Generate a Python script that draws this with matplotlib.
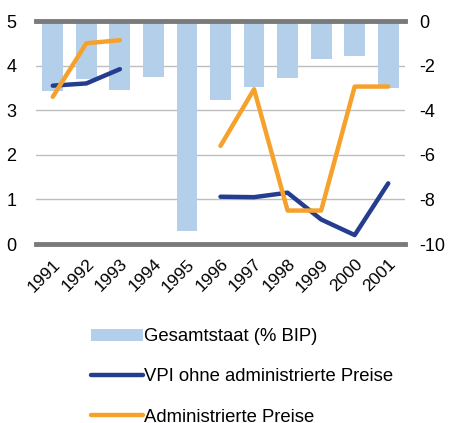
import numpy as np
import matplotlib
matplotlib.use("Agg")
import matplotlib.pyplot as plt
from matplotlib.patches import Patch
from matplotlib.lines import Line2D

plt.rcParams['font.family'] = ['Liberation Sans', 'DejaVu Sans']

years = ["1991", "1992", "1993", "1994", "1995", "1996", "1997", "1998", "1999", "2000", "2001"]
gesamtstaat = [-3.15, -2.6, -3.1, -2.5, -9.4, -3.55, -2.95, -2.55, -1.7, -1.55, -3.0]
vpi = [3.55, 3.6, 3.92, np.nan, np.nan, 1.06, 1.05, 1.15, 0.55, 0.2, 1.36]
admin = [3.3, 4.5, 4.57, np.nan, np.nan, 2.2, 3.47, 0.75, 0.75, 3.53, 3.53]

bar_color = "#b4cfea"
navy = "#253d8f"
orange = "#f7a12d"
axis_grey = "#7a7a7a"

fig = plt.figure(figsize=(4.49, 4.23), dpi=100)
ax = fig.add_axes([36 / 449, 1 - 244 / 423, 369 / 449, 223 / 423])
ax2 = ax.twinx()
x = np.arange(len(years))

# bars against the right-hand scale
ax.bar(x, gesamtstaat, width=0.62, color=bar_color, zorder=2)
ax.set_ylim(-10, 0)
ax.set_xlim(-0.5, len(years) - 0.5)
ax.yaxis.tick_right()
ax.yaxis.set_label_position("right")
ax.set_yticks([0, -2, -4, -6, -8, -10])
ax.set_yticklabels(["0", "-2", "-4", "-6", "-8", "-10"])
ax.grid(True, axis="y", color="#bdbdbd", linewidth=1.0, zorder=0)
ax.set_axisbelow(True)
for side in ["left", "right"]:
    ax.spines[side].set_visible(False)
for side in ["top", "bottom"]:
    ax.spines[side].set_color(axis_grey)
    ax.spines[side].set_linewidth(3.5)
ax.tick_params(axis="y", length=0, labelsize=13, pad=10)
ax.set_xticks(x)
ax.set_xticklabels(years, rotation=45, ha="right", rotation_mode="anchor", fontsize=12.5)
ax.tick_params(axis="x", length=0, pad=9)

# lines against the left-hand scale
ax2.plot(x, vpi, color=navy, linewidth=3.2, solid_capstyle="round")
ax2.plot(x, admin, color=orange, linewidth=3.2, solid_capstyle="round")
ax2.set_ylim(0, 5)
ax2.yaxis.tick_left()
ax2.yaxis.set_label_position("left")
ax2.set_yticks([0, 1, 2, 3, 4, 5])
ax2.tick_params(axis="y", length=0, labelsize=13, pad=14)
for side in ax2.spines:
    ax2.spines[side].set_visible(False)

handles = [
    Patch(facecolor=bar_color, edgecolor="none"),
    Line2D([], [], color=navy, linewidth=3.2, solid_capstyle="round"),
    Line2D([], [], color=orange, linewidth=3.2, solid_capstyle="round"),
]
labels = ["Gesamtstaat (% BIP)", "VPI ohne administrierte Preise", "Administrierte Preise"]
fig.legend(handles, labels, loc="upper left", bbox_to_anchor=(84 / 449, 1 - 321 / 423),
           frameon=False, fontsize=13.3, handlelength=2.8, handleheight=0.6,
           handletextpad=0.05, labelspacing=1.25, borderaxespad=0)

fig.savefig("out.png", dpi=100)
